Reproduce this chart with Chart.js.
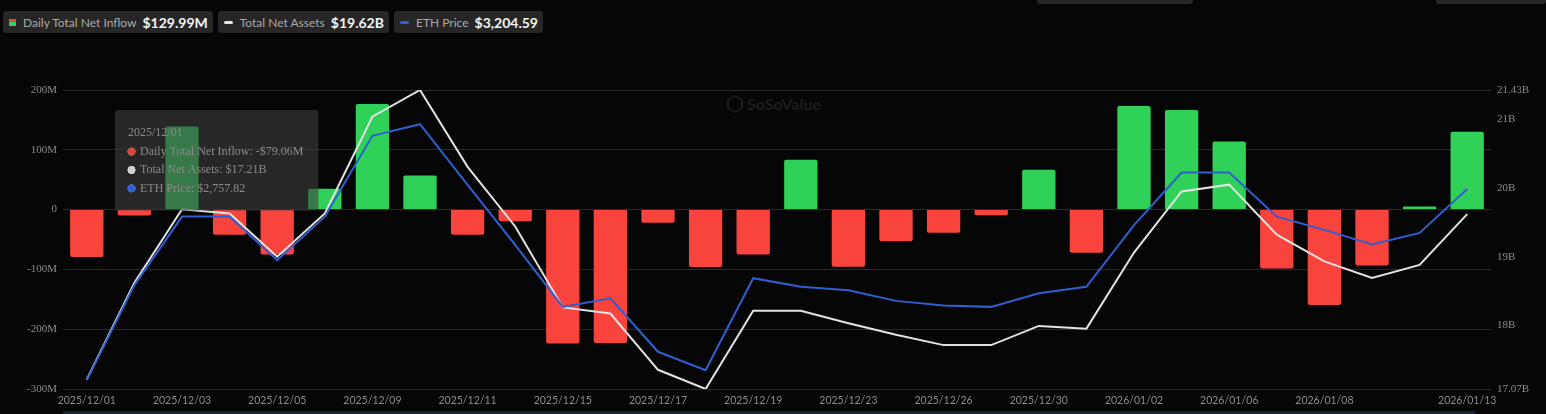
<!DOCTYPE html>
<html>
<head>
<meta charset="utf-8">
<script src="https://cdn.jsdelivr.net/npm/chart.js@4.4.1/dist/chart.umd.min.js"></script>
<style>
  html, body { margin: 0; padding: 0; background: #060606; }
  body { width: 1546px; height: 414px; position: relative; overflow: hidden; font-family: Lato, "Open Sans", sans-serif; }
  #chart-wrap { position: absolute; left: 0; top: 0; width: 1546px; height: 414px; }
  .legend { position: absolute; left: 3px; top: 11px; display: flex; gap: 5px; }
  .legend-item { display: flex; align-items: center; height: 22px; background: #262626; border-radius: 3px; padding: 0 5px 0 6px; }
  .legend-item .mark { margin-right: 7px; }
  .legend-item .name { color: #a9a9a9; font-size: 12px; margin-right: 6px; }
  .legend-item .val { color: #f2f2f2; font-size: 14px; font-weight: bold; }
  .sq { width: 7px; height: 7px; background: linear-gradient(#e8453c 50%, #2fd158 50%); }
  .dash { width: 9px; height: 3px; border-radius: 2px; }
  .stub { position: absolute; top: 0; height: 4px; background: #262626; border-radius: 0 0 3px 3px; }
  .watermark { position: absolute; left: 727px; top: 94px; display: flex; align-items: center; color: #1d1d1d; font-size: 16px; font-weight: bold; }
  .bottom-bar { position: absolute; left: 63px; top: 411px; width: 1412px; height: 3px; background: #16233a; }
</style>
</head>
<body>
<div class="stub" style="left:1037px;width:156px"></div>
<div class="stub" style="left:1436px;width:110px"></div>

<div class="legend">
  <div class="legend-item"><div class="mark sq"></div><span class="name">Daily Total Net Inflow</span><span class="val">$129.99M</span></div>
  <div class="legend-item"><div class="mark dash" style="background:#e6e6e6"></div><span class="name">Total Net Assets</span><span class="val">$19.62B</span></div>
  <div class="legend-item"><div class="mark dash" style="background:#2f5fd0"></div><span class="name">ETH Price</span><span class="val">$3,204.59</span></div>
</div>

<div class="watermark">
  <svg width="16" height="18" viewBox="0 0 16 18" style="margin-right:4px"><path d="M8 1 L15 5 L15 13 L8 17 L1 13 L1 5 Z" fill="none" stroke="#1d1d1d" stroke-width="2"/></svg>
  <span>SoSoValue</span>
</div>

<div id="chart-wrap"><canvas id="etfChart"></canvas></div>
<div class="bottom-bar"></div>

<script>
// data
const dates = [
	"2025/12/01", "2025/12/02", "2025/12/03", "2025/12/04", "2025/12/05",
	"2025/12/08", "2025/12/09", "2025/12/10", "2025/12/11", "2025/12/12",
	"2025/12/15", "2025/12/16", "2025/12/17", "2025/12/18", "2025/12/19",
	"2025/12/22", "2025/12/23", "2025/12/24", "2025/12/26", "2025/12/29",
	"2025/12/30", "2025/12/31", "2026/01/02", "2026/01/05", "2026/01/06",
	"2026/01/07", "2026/01/08", "2026/01/09", "2026/01/12", "2026/01/13",
];
// Daily Total Net Inflow, millions USD
const netInflow = [
	-79.06, -10, 138.9, -42, -75, 35, 176.7, 57, -42, -19.5,
	-224, -223, -22, -96, -75, 83.3, -95.6, -52.8, -38.9, -9.4,
	66.7, -72.2, 173.3, 166.7, 113.9, -98.3, -159.4, -93.3, 5, 129.99,
];
// Total Net Assets, billions USD
const totalNetAssets = [
	17.21, 18.62, 19.69, 19.63, 19.0, 19.63, 21.04, 21.43, 20.31, 19.44,
	18.26, 18.17, 17.35, 17.07, 18.21, 18.21, 18.03, 17.86, 17.71, 17.71,
	17.99, 17.95, 19.06, 19.95, 20.05, 19.32, 18.93, 18.69, 18.88, 19.62,
];
// ETH Price, USD
const ethPrice = [
	2757.82, 2980, 3140, 3140, 3038, 3140, 3329, 3356, 3214, 3074,
	2929, 2949, 2824, 2781, 2996, 2976, 2968, 2943, 2932, 2929,
	2961, 2976, 3120, 3243, 3243, 3140, 3109, 3075, 3102, 3204.59,
];
const leftTicks = [-300, -200, -100, 0, 100, 200];
const rightTicks = [17.07, 18, 19, 20, 21, 21.43];

const green = "#2fd158";
const red = "#f8443c";

// keep the tooltip pinned where the screenshot shows it
Chart.Tooltip.positioners.pinned = function () {
	return { x: 118, y: 110 };
};

function money(v, digits) {
	return v.toLocaleString("en-US", { minimumFractionDigits: digits, maximumFractionDigits: digits });
}

const ctx = document.getElementById("etfChart").getContext("2d");
const chart = new Chart(ctx, {
	type: "bar",
	data: {
		labels: dates,
		datasets: [
			{
				label: "Daily Total Net Inflow",
				data: netInflow,
				yAxisID: "y",
				backgroundColor: netInflow.map((v) => (v >= 0 ? green : red)),
				barPercentage: 0.7,
				categoryPercentage: 1,
				borderRadius: 2,
				order: 3,
			},
			{
				type: "line",
				label: "Total Net Assets",
				data: totalNetAssets,
				yAxisID: "yAssets",
				borderColor: "#e3e3e3",
				borderWidth: 2,
				pointRadius: 0,
				tension: 0,
				order: 2,
			},
			{
				type: "line",
				label: "ETH Price",
				data: ethPrice,
				yAxisID: "yEth",
				borderColor: "#2f5fd0",
				borderWidth: 2,
				pointRadius: 0,
				tension: 0,
				order: 1,
			},
		],
	},
	options: {
		responsive: true,
		maintainAspectRatio: false,
		animation: false,
		events: [],
		layout: { padding: { top: 90, left: 0, right: 0, bottom: 0 } },
		scales: {
			x: {
				grid: { display: false, drawTicks: false },
				border: { display: false },
				ticks: {
					autoSkip: false,
					maxRotation: 0,
					padding: 5,
					color: "#8c8c8c",
					font: { family: "Lato", size: 10.5 },
					callback: function (value, index) {
						const last = dates.length - 1;
						if (index === last || (index % 2 === 0 && index < last - 1)) return dates[index];
						return "";
					},
				},
				afterFit: function (axis) {
					axis.height = 25;
				},
			},
			y: {
				position: "left",
				min: -300,
				max: 200,
				grid: { color: "#2a2a2a", drawTicks: false },
				border: { display: false },
				afterBuildTicks: function (axis) {
					axis.ticks = leftTicks.map((v) => ({ value: v }));
				},
				ticks: {
					padding: 6,
					color: "#8c8c8c",
					font: { family: "Liberation Serif", size: 11 },
					callback: function (value) {
						return value === 0 ? "0" : value + "M";
					},
				},
				afterFit: function (axis) {
					axis.width = 63;
				},
			},
			yAssets: {
				position: "right",
				min: 17.07,
				max: 21.43,
				grid: { display: false, drawTicks: false },
				border: { display: false },
				afterBuildTicks: function (axis) {
					axis.ticks = rightTicks.map((v) => ({ value: v }));
				},
				ticks: {
					padding: 6,
					color: "#8c8c8c",
					font: { family: "Liberation Serif", size: 11 },
					callback: function (value) {
						return value + "B";
					},
				},
				afterFit: function (axis) {
					axis.width = 55;
				},
			},
			yEth: {
				display: false,
				min: 2737,
				max: 3436,
			},
		},
		plugins: {
			legend: { display: false },
			tooltip: {
				enabled: true,
				position: "pinned",
				xAlign: "left",
				yAlign: "top",
				caretSize: 0,
				caretPadding: 0,
				cornerRadius: 3,
				backgroundColor: "rgba(62,62,62,0.6)",
				titleColor: "#8a8a8a",
				bodyColor: "#8a8a8a",
				titleFont: { family: "Liberation Serif", size: 12, weight: "normal" },
				bodyFont: { family: "Liberation Serif", size: 12 },
				padding: { left: 13, right: 15, top: 16, bottom: 15 },
				titleMarginBottom: 4,
				bodySpacing: 4,
				usePointStyle: true,
				boxWidth: 7,
				boxHeight: 7,
				boxPadding: 3,
				callbacks: {
					label: function (item) {
						const v = item.raw;
						if (item.datasetIndex === 0) {
							return "Daily Total Net Inflow: " + (v < 0 ? "-$" : "$") + money(Math.abs(v), 2) + "M";
						}
						if (item.datasetIndex === 1) {
							return "Total Net Assets: $" + money(v, 2) + "B";
						}
						return "ETH Price: $" + money(v, 2);
					},
					labelColor: function (item) {
						const c = ["#d9443c", "#d0d0d0", "#2f5fd0"][item.datasetIndex];
						return { borderColor: c, backgroundColor: c };
					},
					labelPointStyle: function () {
						return { pointStyle: "circle", rotation: 0 };
					},
				},
			},
		},
	},
});

chart.tooltip.setActiveElements(
	[
		{ datasetIndex: 0, index: 0 },
		{ datasetIndex: 1, index: 0 },
		{ datasetIndex: 2, index: 0 },
	],
	{ x: 87, y: 210 }
);
chart.update();
</script>
</body>
</html>
